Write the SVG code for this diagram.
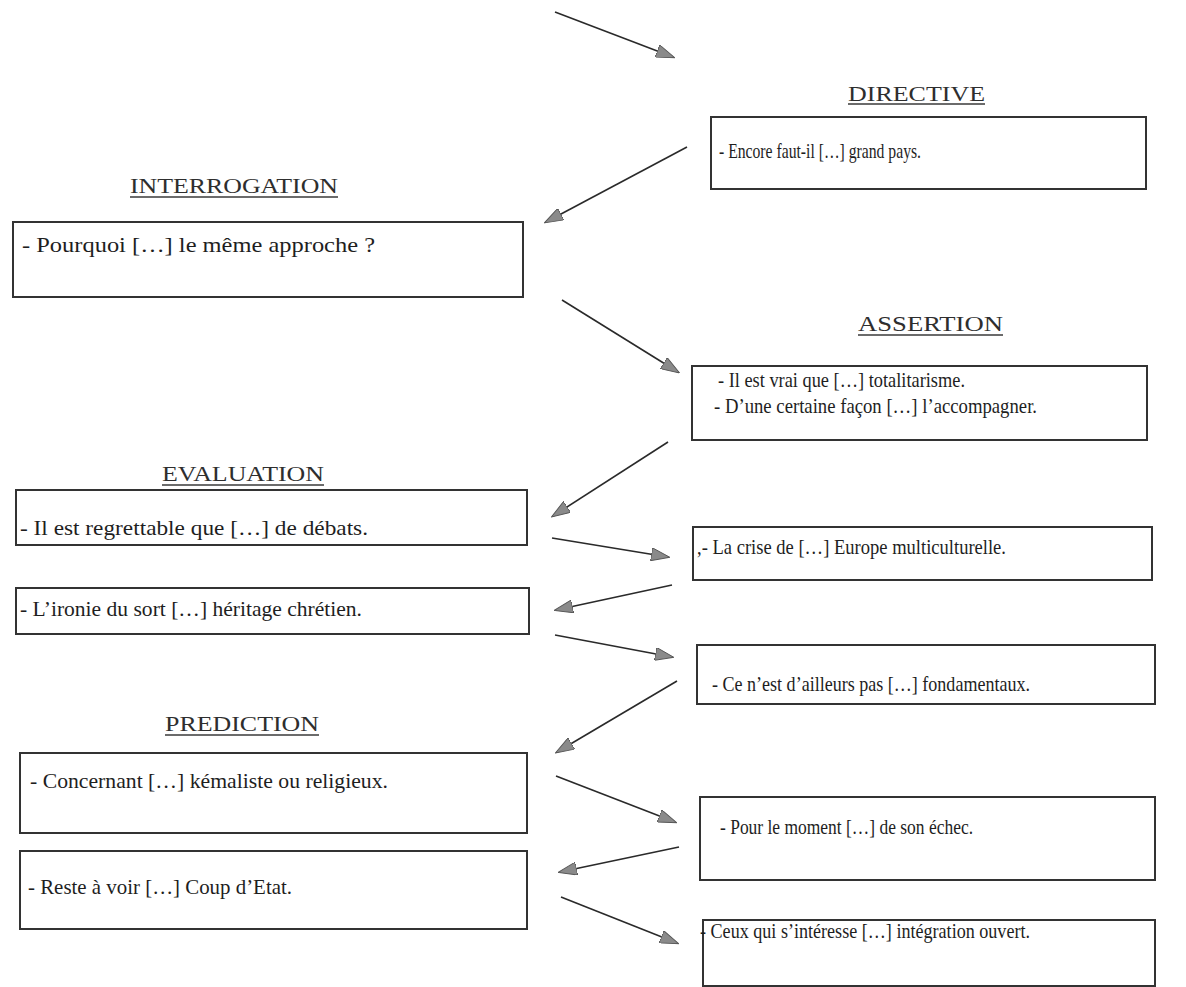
<svg xmlns="http://www.w3.org/2000/svg" width="1186" height="987" viewBox="0 0 1186 987">
  <style>
    .box { fill: none; stroke: #333; stroke-width: 2; }
    .title { font-family: "Liberation Serif", "Times New Roman", serif; font-size: 22px; fill: #2e2e2e; }
    .ul { stroke: #3a3a3a; stroke-width: 1.6; }
    .txt { font-family: "Liberation Serif", "Times New Roman", serif; fill: #1e1e1e; }
    .l { font-size: 22px; }
    .r { font-size: 21px; }
    .edge { stroke: #2a2a2a; stroke-width: 1.6; fill: none; marker-end: url(#head); }
  </style>
  <defs>
    <marker id="head" viewBox="0 0 20 14" refX="18" refY="7" markerWidth="19" markerHeight="13" markerUnits="userSpaceOnUse" orient="auto">
      <path d="M0,0 L20,7 L0,14 Z" fill="#8a8a8a" stroke="#555" stroke-width="1"/>
    </marker>
  </defs>
  <rect width="1186" height="987" fill="#fff"/>

  <!-- connectors -->
  <g id="connectors">
    <line class="edge" x1="555" y1="12" x2="673" y2="57"/>
    <line class="edge" x1="687" y1="147" x2="546" y2="222"/>
    <line class="edge" x1="562" y1="300" x2="678" y2="372"/>
    <line class="edge" x1="668" y1="442" x2="553" y2="516"/>
    <line class="edge" x1="552" y1="538" x2="668" y2="557"/>
    <line class="edge" x1="672" y1="585" x2="556" y2="610"/>
    <line class="edge" x1="555" y1="635" x2="672" y2="657"/>
    <line class="edge" x1="677" y1="681" x2="557" y2="752"/>
    <line class="edge" x1="556" y1="776" x2="675" y2="822"/>
    <line class="edge" x1="679" y1="847" x2="560" y2="872"/>
    <line class="edge" x1="561" y1="897" x2="677" y2="943"/>
  </g>

  <!-- section headings -->
  <g id="headings">
    <text class="title" x="848" y="101" textLength="137" lengthAdjust="spacingAndGlyphs">DIRECTIVE</text>
    <line class="ul" x1="848" y1="104" x2="985" y2="104"/>
    <text class="title" x="130" y="193" textLength="208" lengthAdjust="spacingAndGlyphs">INTERROGATION</text>
    <line class="ul" x1="130" y1="197" x2="338" y2="197"/>
    <text class="title" x="858" y="331" textLength="145" lengthAdjust="spacingAndGlyphs">ASSERTION</text>
    <line class="ul" x1="858" y1="335" x2="1003" y2="335"/>
    <text class="title" x="162" y="481" textLength="162" lengthAdjust="spacingAndGlyphs">EVALUATION</text>
    <line class="ul" x1="162" y1="485" x2="324" y2="485"/>
    <text class="title" x="165" y="731" textLength="154" lengthAdjust="spacingAndGlyphs">PREDICTION</text>
    <line class="ul" x1="165" y1="735" x2="319" y2="735"/>
  </g>

  <g id="directive">
    <rect class="box" x="711" y="117" width="435" height="72"/>
    <text class="txt r" x="719" y="158" textLength="202" lengthAdjust="spacingAndGlyphs">- Encore faut-il […] grand pays.</text>
  </g>

  <g id="interrogation">
    <rect class="box" x="13" y="222" width="510" height="75"/>
    <text class="txt l" x="22" y="252" textLength="353" lengthAdjust="spacingAndGlyphs">- Pourquoi […] le même approche ?</text>
  </g>

  <g id="assertion">
    <rect class="box" x="692" y="366" width="455" height="74"/>
    <text class="txt r" x="718" y="387" textLength="247" lengthAdjust="spacingAndGlyphs">- Il est vrai que […] totalitarisme.</text>
    <text class="txt r" x="714" y="413" textLength="323" lengthAdjust="spacingAndGlyphs">- D’une certaine façon […] l’accompagner.</text>
  </g>

  <g id="evaluation-1">
    <rect class="box" x="16" y="490" width="511" height="55"/>
    <text class="txt l" x="20" y="535" textLength="348" lengthAdjust="spacingAndGlyphs">- Il est regrettable que […] de débats.</text>
  </g>

  <g id="assertion-2">
    <rect class="box" x="693" y="527" width="459" height="53"/>
    <text class="txt r" x="697" y="554" textLength="309" lengthAdjust="spacingAndGlyphs">,- La crise de […] Europe multiculturelle.</text>
  </g>

  <g id="evaluation-2">
    <rect class="box" x="16" y="588" width="513" height="46"/>
    <text class="txt l" x="20" y="616" textLength="342" lengthAdjust="spacingAndGlyphs">- L’ironie du sort […] héritage chrétien.</text>
  </g>

  <g id="assertion-3">
    <rect class="box" x="697" y="645" width="458" height="59"/>
    <text class="txt r" x="712" y="691" textLength="318" lengthAdjust="spacingAndGlyphs">- Ce n’est d’ailleurs pas […] fondamentaux.</text>
  </g>

  <g id="prediction-1">
    <rect class="box" x="20" y="753" width="507" height="80"/>
    <text class="txt l" x="30" y="788" textLength="358" lengthAdjust="spacingAndGlyphs">- Concernant […] kémaliste ou religieux.</text>
  </g>

  <g id="assertion-4">
    <rect class="box" x="700" y="797" width="455" height="83"/>
    <text class="txt r" x="720" y="834" textLength="253" lengthAdjust="spacingAndGlyphs">- Pour le moment […] de son échec.</text>
  </g>

  <g id="prediction-2">
    <rect class="box" x="20" y="851" width="507" height="78"/>
    <text class="txt l" x="28" y="894" textLength="264" lengthAdjust="spacingAndGlyphs">- Reste à voir […] Coup d’Etat.</text>
  </g>

  <g id="assertion-5">
    <rect class="box" x="703" y="920" width="452" height="66"/>
    <text class="txt r" x="700" y="938" textLength="330" lengthAdjust="spacingAndGlyphs">- Ceux qui s’intéresse […] intégration ouvert.</text>
  </g>
</svg>
